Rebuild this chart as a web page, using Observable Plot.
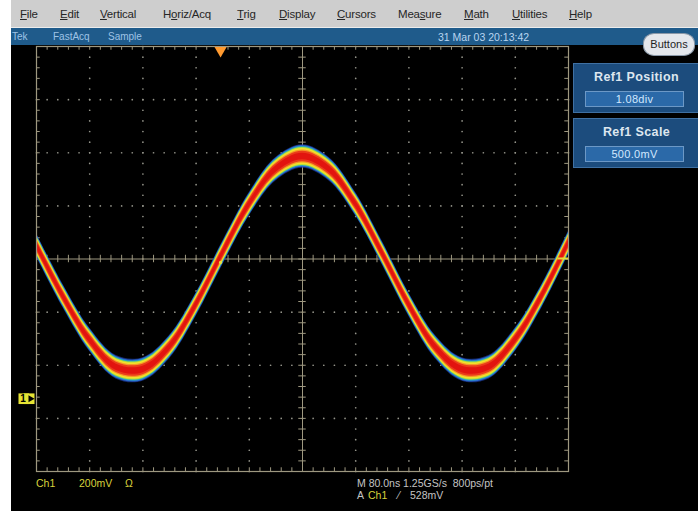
<!DOCTYPE html>
<html>
<head>
<meta charset="utf-8">
<script src="https://cdn.jsdelivr.net/npm/d3@7"></script>
<script src="https://cdn.jsdelivr.net/npm/@observablehq/plot@0.6"></script>
<style>
  html, body { margin: 0; padding: 0; background: #fff; }
  #scope { position: relative; width: 698px; height: 511px; overflow: hidden; background: #fff;
           font-family: "Liberation Sans", Arial, sans-serif; }
  #menu { position: absolute; left: 11px; top: 0; width: 687px; height: 27px; background: #cecece;
          border-bottom: 1px solid #ececec; }
  .mi { position: absolute; top: 8px; font-size: 11.5px; color: #262626; line-height: 13px; white-space: nowrap; letter-spacing: -0.2px; }
  #status { position: absolute; left: 11px; top: 28px; width: 687px; height: 17px; background: #1f5b8b; }
  .st { position: absolute; top: 3px; font-size: 10px; line-height: 12px; color: #9ec3e6; white-space: nowrap; }
  #black { position: absolute; left: 11px; top: 45px; width: 687px; height: 466px; background: #000; }
  #buttons { position: absolute; left: 643px; top: 33px; width: 50px; height: 21px; border-radius: 11px / 10px;
             background: #e4e7ec; border: 1px solid #8a98a8; font-size: 11px; color: #1e1e1e;
             text-align: center; line-height: 21px; }
  .panel { position: absolute; left: 573px; width: 125px; height: 50px; background: #1c4c7d;
           border: 1px solid #3f70a2; border-right: none; box-sizing: border-box; }
  .ptitle { position: absolute; left: 0; width: 125px; top: 6px; text-align: center; font-size: 12.5px;
            font-weight: bold; color: #dde6ef; line-height: 15px; letter-spacing: 0.4px; }
  .pval { position: absolute; left: 11px; top: 27px; width: 99px; height: 16px; background: #2b69a8;
          border: 1px solid #6c98c6; box-sizing: border-box; text-align: center; font-size: 11px;
          color: #d2e8ff; line-height: 14px; letter-spacing: 0.3px; }
  .bt { position: absolute; font-size: 10.5px; line-height: 12px; white-space: nowrap; }
  .yel { color: #d8d23c; }
  .gry { color: #c4c4c4; }
  svg.scopeplot { position: absolute; left: 0; top: 0; }
</style>
</head>
<body>
<div id="scope">
  <div id="menu">
    <span class="mi" style="left:9px"><u>F</u>ile</span>
    <span class="mi" style="left:49px"><u>E</u>dit</span>
    <span class="mi" style="left:89px"><u>V</u>ertical</span>
    <span class="mi" style="left:152px">H<u>o</u>riz/Acq</span>
    <span class="mi" style="left:226px"><u>T</u>rig</span>
    <span class="mi" style="left:268px"><u>D</u>isplay</span>
    <span class="mi" style="left:326px"><u>C</u>ursors</span>
    <span class="mi" style="left:387px">Mea<u>s</u>ure</span>
    <span class="mi" style="left:453px"><u>M</u>ath</span>
    <span class="mi" style="left:501px"><u>U</u>tilities</span>
    <span class="mi" style="left:558px"><u>H</u>elp</span>
  </div>
  <div id="status">
    <span class="st" style="left:1px">Tek</span>
    <span class="st" style="left:42px">FastAcq</span>
    <span class="st" style="left:97px">Sample</span>
    <span class="st" style="left:427px;color:#b9d5f0;font-size:10.5px">31 Mar 03 20:13:42</span>
  </div>
  <div id="black"></div>
  <div id="buttons">Buttons</div>
  <div class="panel" style="top:63px">
    <div class="ptitle">Ref1 Position</div>
    <div class="pval">1.08div</div>
  </div>
  <div class="panel" style="top:118px">
    <div class="ptitle">Ref1 Scale</div>
    <div class="pval">500.0mV</div>
  </div>
  <span class="bt yel" style="left:36px;top:477px">Ch1</span>
  <span class="bt yel" style="left:79px;top:477px">200mV</span>
  <span class="bt yel" style="left:125px;top:477px">Ω</span>
  <span class="bt gry" style="left:357px;top:477px">M 80.0ns 1.25GS/s&nbsp; 800ps/pt</span>
  <span class="bt gry" style="left:357px;top:489px">A</span>
  <span class="bt yel" style="left:368px;top:489px">Ch1</span>
  <span class="bt gry" style="left:398px;top:489px">⁄</span>
  <span class="bt gry" style="left:410px;top:489px">528mV</span>
</div>
<script>
// ---- Data (units: divisions; 80 ns/div, 200 mV/div) ----
const timeDiv = [-5, -4.5, -4, -3.5, -3, -2.5, -2, -1.5, -1, -0.5, 0, 0.5, 1, 1.5, 2, 2.5, 3, 3.5, 4, 4.5, 5];
const ch1Div  = [0.26, -0.70, -1.52, -2.04, -2.08, -1.66, -0.86, 0.11, 1.03, 1.69, 1.93, 1.69, 1.03, 0.11, -0.86, -1.66, -2.08, -2.04, -1.52, -0.70, 0.30];
const trigTimeDiv  = [-1.54];
const trigLevelDiv = [0.01];
const ch1GroundDiv = [-2.63];
const majorX = [-4, -3, -2, -1, 1, 2, 3, 4];
const majorY = [-3, -2, -1, 1, 2, 3];
const minorX = d3.range(-25, 26).map(i => i / 5);
const minorY = d3.range(-20, 21).map(i => i / 5);

const samples = timeDiv.map((t, i) => ({t, v: ch1Div[i]}));
const gridDots = [
  ...majorX.flatMap(x => minorY.map(y => ({x, y}))),
  ...majorY.flatMap(y => minorX.map(x => ({x, y})))
];

// persistence band layers (vertical half-thickness in divisions)
const layers = [
  {h: 0.222, fill: "#1b3d9e", opacity: 0.7},
  {h: 0.205, fill: "#2c62d0", opacity: 1},
  {h: 0.186, fill: "#27b0b8", opacity: 1},
  {h: 0.168, fill: "#b8dc3a", opacity: 1},
  {h: 0.150, fill: "#f2e22c", opacity: 1},
  {h: 0.122, fill: "#f59a26", opacity: 1},
  {h: 0.098, fill: "#ea3a1a", opacity: 1},
  {h: 0.060, fill: "#e2140f", opacity: 1}
];

const gridColor = "#9e9880";
const tk = 0.07;

const chart = Plot.plot({
  width: 698,
  height: 511,
  marginLeft: 36,
  marginRight: 130,
  marginTop: 46,
  marginBottom: 40,
  x: {domain: [-5, 5], axis: null},
  y: {domain: [-4, 4], axis: null},
  style: {background: "transparent", overflow: "visible"},
  className: "scopeplot",
  marks: [
    Plot.dot(gridDots, {x: "x", y: "y", r: 0.85, fill: "#94948a", stroke: null}),
    Plot.ruleX([0], {stroke: gridColor, strokeWidth: 1}),
    Plot.ruleY([0], {stroke: gridColor, strokeWidth: 1}),
    Plot.ruleX(minorX, {x: d => d, y1: -tk, y2: tk, stroke: gridColor}),
    Plot.ruleY(minorY, {y: d => d, x1: -tk, x2: tk, stroke: gridColor}),
    Plot.ruleX(minorX, {x: d => d, y1: 4, y2: 4 - tk, stroke: gridColor}),
    Plot.ruleX(minorX, {x: d => d, y1: -4, y2: -4 + tk, stroke: gridColor}),
    Plot.ruleY(minorY, {y: d => d, x1: -5, x2: -5 + tk, stroke: gridColor}),
    Plot.ruleY(minorY, {y: d => d, x1: 5, x2: 5 - tk, stroke: gridColor}),
    ...layers.map(L => Plot.areaY(samples, {
      x: "t", y1: d => d.v - L.h, y2: d => d.v + L.h,
      curve: "catmull-rom", fill: L.fill, fillOpacity: L.opacity, clip: true
    })),
    Plot.frame({stroke: gridColor, strokeWidth: 1.2}),
    // trigger position (top, orange)
    Plot.dot(trigTimeDiv, {x: d => d, y: 4, symbol: "triangle", rotate: 180, r: 4.5, dy: 4, fill: "#ff9a30", stroke: null}),
    // trigger point on waveform
    Plot.dot(trigTimeDiv, {x: d => d, y: () => trigLevelDiv[0], r: 1.6, dy: 4, fill: "#e8e040", stroke: null}),
    // trigger level (right edge, yellow)
    Plot.ruleY(trigLevelDiv, {y: d => d, x1: 4.8, x2: 5, stroke: "#e2dc3a", strokeWidth: 2}),
    // Ch1 ground reference marker (left)
    Plot.dot(ch1GroundDiv, {x: -5, y: d => d, symbol: "square", r: 6, dx: -12.7, fill: "#e6e434", stroke: null}),
    Plot.dot(ch1GroundDiv, {x: -5, y: d => d, symbol: "square", r: 6, dx: -7.3, fill: "#e6e434", stroke: null}),
    Plot.text(ch1GroundDiv, {x: -5, y: d => d, text: () => "1", dx: -13.5, fill: "#000", fontSize: 10, fontWeight: "bold", fontFamily: "Liberation Sans, Arial, sans-serif"}),
    Plot.dot(ch1GroundDiv, {x: -5, y: d => d, symbol: "triangle", rotate: 90, r: 2.6, dx: -6, fill: "#000", stroke: null})
  ]
});
document.getElementById("scope").appendChild(chart);
</script>
</body>
</html>
